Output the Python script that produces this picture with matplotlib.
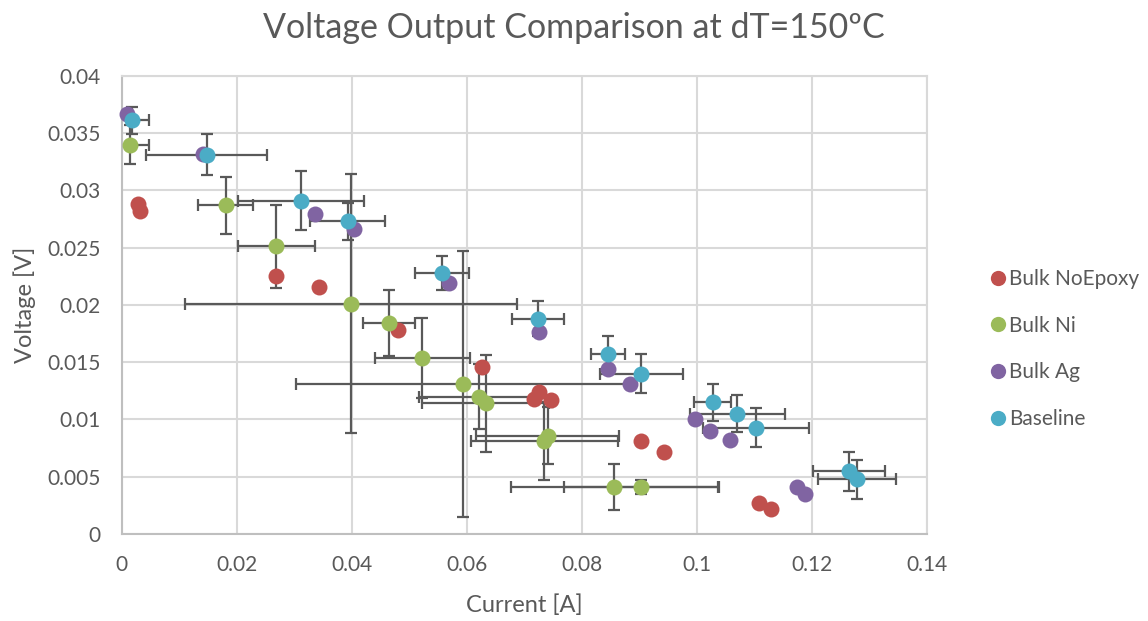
import matplotlib
matplotlib.use("Agg")
import matplotlib.pyplot as plt
from matplotlib.lines import Line2D

plt.rcParams['font.family'] = ['Lato', 'DejaVu Sans']

# current [A] / voltage [V] per sample type
noepoxy_x = [0.0028, 0.0032, 0.0269, 0.0344, 0.0481, 0.0627, 0.0725, 0.0717, 0.0746, 0.0903, 0.0944, 0.1109, 0.1130]
noepoxy_y = [0.0288, 0.0282, 0.0225, 0.0216, 0.0178, 0.0146, 0.0124, 0.0118, 0.0117, 0.0081, 0.0072, 0.0027, 0.0022]

ni_x = [0.0014, 0.0181, 0.0269, 0.0399, 0.0465, 0.0523, 0.0593, 0.0621, 0.0633, 0.0741, 0.0735, 0.0857, 0.0904]
ni_y = [0.0340, 0.0287, 0.0251, 0.0201, 0.0184, 0.0154, 0.0131, 0.0120, 0.0114, 0.0086, 0.0081, 0.0041, 0.0041]
ni_xerr = [0.0033, 0.0048, 0.0067, 0.0289, 0.0045, 0.0083, 0.0290, 0.0104, 0.0110, 0.0124, 0.0128, 0.0180, 0.0134]
ni_yerr = [0.0017, 0.0025, 0.0036, 0.0113, 0.0029, 0.0035, 0.0116, 0.0028, 0.0042, 0.0025, 0.0034, 0.0020, 0.0006]

ag_x = [0.0009, 0.0142, 0.0336, 0.0404, 0.0569, 0.0726, 0.0846, 0.0884, 0.0997, 0.1024, 0.1058, 0.1174, 0.1189]
ag_y = [0.0367, 0.0332, 0.0279, 0.0266, 0.0219, 0.0176, 0.0144, 0.0131, 0.0100, 0.0090, 0.0082, 0.0041, 0.0035]

base_x = [0.0018, 0.0148, 0.0312, 0.0393, 0.0557, 0.0724, 0.0846, 0.0904, 0.1028, 0.1071, 0.1103, 0.1265, 0.1279]
base_y = [0.0361, 0.0331, 0.0291, 0.0273, 0.0228, 0.0188, 0.0157, 0.0140, 0.0115, 0.0105, 0.0093, 0.0055, 0.0048]
base_xerr = [0.0029, 0.0105, 0.0110, 0.0065, 0.0047, 0.0045, 0.0030, 0.0072, 0.0032, 0.0082, 0.0092, 0.0062, 0.0068]
base_yerr = [0.0012, 0.0018, 0.0026, 0.0016, 0.0015, 0.0015, 0.0016, 0.0017, 0.0016, 0.0016, 0.0017, 0.0017, 0.0017]

labels = ['Bulk NoEpoxy', 'Bulk Ni', 'Bulk Ag', 'Baseline']
colors = ['#C0504D', '#9BBB59', '#8064A2', '#4BACC6']
text_color = '#595959'
grid_color = '#D9D9D9'

fig = plt.figure(figsize=(11.48, 6.21), dpi=100)
ax = fig.add_axes([0.106, 0.14, 0.7012, 0.738])

# error bars sit underneath all the markers
for x, y, xe, ye in [(ni_x, ni_y, ni_xerr, ni_yerr), (base_x, base_y, base_xerr, base_yerr)]:
    ax.errorbar(x, y, xerr=xe, yerr=ye, fmt='none', ecolor='#595959',
                elinewidth=1.6, capsize=4.5, capthick=1.6, zorder=2)

series = [(noepoxy_x, noepoxy_y), (ni_x, ni_y), (ag_x, ag_y), (base_x, base_y)]
for i, (x, y) in enumerate(series):
    ax.plot(x, y, 'o', color=colors[i], ms=11.5, mec='none', zorder=3 + i, clip_on=False)

ax.set_xlim(0, 0.14)
ax.set_ylim(0, 0.04)
ax.set_xticks([0, 0.02, 0.04, 0.06, 0.08, 0.1, 0.12, 0.14])
ax.set_xticklabels(['0', '0.02', '0.04', '0.06', '0.08', '0.1', '0.12', '0.14'])
ax.set_yticks([0, 0.005, 0.01, 0.015, 0.02, 0.025, 0.03, 0.035, 0.04])
ax.set_yticklabels(['0', '0.005', '0.01', '0.015', '0.02', '0.025', '0.03', '0.035', '0.04'])
ax.tick_params(length=0, labelsize=15, colors=text_color)
ax.tick_params(axis='x', pad=15)
ax.tick_params(axis='y', pad=15)
ax.grid(True, color=grid_color, lw=1.5, zorder=0)
ax.set_axisbelow(True)
for s in ax.spines.values():
    s.set_color(grid_color)
    s.set_linewidth(1.5)
ax.spines['left'].set_color('#BFBFBF')
ax.spines['bottom'].set_color('#BFBFBF')

ax.set_xlabel('Current [A]', fontsize=17, color=text_color, labelpad=14)
ax.set_ylabel('Voltage [V]', fontsize=17, color=text_color, labelpad=8)
fig.text(0.5, 0.955, 'Voltage Output Comparison at dT=150ºC', ha='center', va='center',
         fontsize=24.5, color=text_color)

handles = [Line2D([], [], marker='o', ls='none', color=c, ms=11, mec='none') for c in colors]
leg = fig.legend(handles, labels, loc='center left', bbox_to_anchor=(0.853, 0.438),
                 frameon=False, fontsize=15, labelspacing=1.28, handletextpad=0.05,
                 handlelength=1.0, borderaxespad=0)
for t in leg.get_texts():
    t.set_color(text_color)

fig.savefig('out.png', dpi=100)
